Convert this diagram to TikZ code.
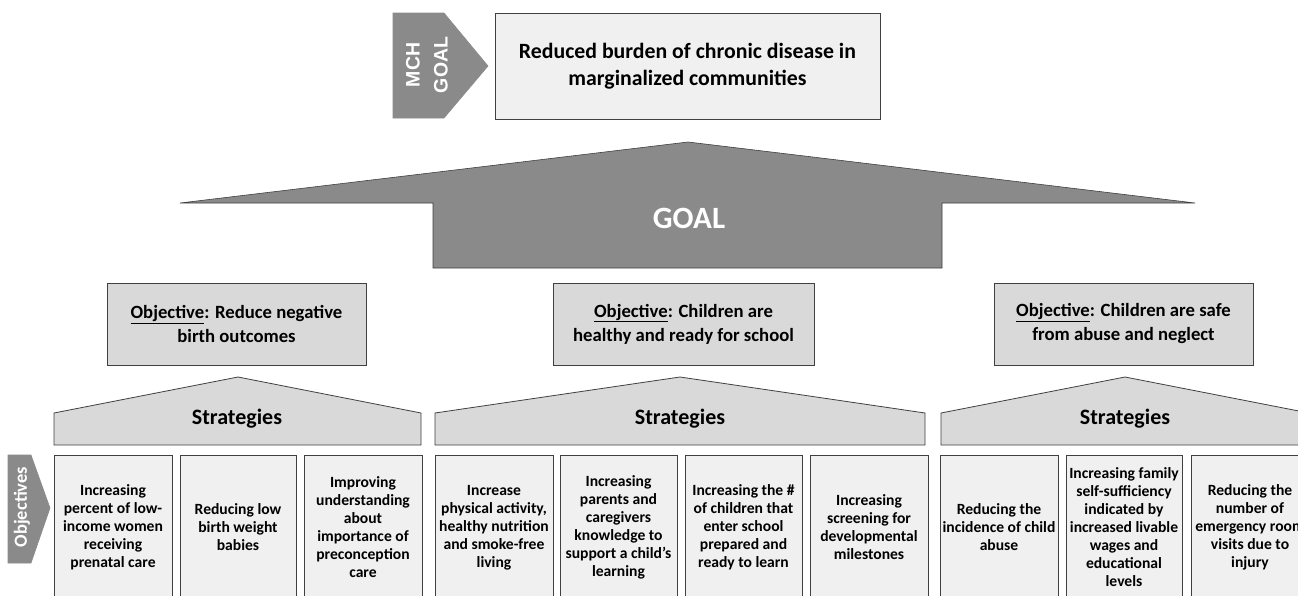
\documentclass[tikz,border=0pt]{standalone}
\usepackage{fontspec}
\setmainfont{Carlito}
\newfontfamily\arialfont{Liberation Sans}
\definecolor{arrowgray}{HTML}{8A8A8A}
\definecolor{midgray}{HTML}{D9D9D9}
\definecolor{lightgray}{HTML}{F0F0F0}
\definecolor{edgegray}{HTML}{404040}
\tikzset{
  darkshape/.style={fill=arrowgray, draw=edgegray, line width=0.6pt},
  midshape/.style={fill=midgray, draw=edgegray, line width=0.8pt},
  lightshape/.style={fill=lightgray, draw=edgegray, line width=0.8pt},
  leaf/.style={lightshape, rectangle, inner sep=0pt, align=center, font=\bfseries\fontsize{15.6}{18}\selectfont},
  objbox/.style={midshape, rectangle, inner sep=0pt, align=center, font=\bfseries\fontsize{18.7}{24}\selectfont},
  whitetxt/.style={text=white, font=\bfseries, align=center, inner sep=0pt},
  blacktxt/.style={font=\bfseries, align=center, inner sep=0pt},
  strat/.style={blacktxt, font=\bfseries\fontsize{22}{26}\selectfont}
}
\begin{document}
\begin{tikzpicture}[x=1pt,y=-1pt]
\useasboundingbox (0,0) rectangle (1298,595);
\fill[white] (0,0) rectangle (1298,595);
\begin{scope}
\clip (0,0) rectangle (1298,595);
% MCH goal arrow
\draw[darkshape, draw=arrowgray] (393,13) -- (444,13) -- (488,66) -- (444,118) -- (393,118) -- cycle;
\node[whitetxt, rotate=90, font=\arialfont\bfseries\fontsize{19.5}{28}\selectfont] (mch) at (427,65) {MCH\\GOAL};
% top box
\node[lightshape, minimum width=385pt, minimum height=106pt, inner sep=0pt, align=center, font=\bfseries\fontsize{21.8}{27}\selectfont] (top) at (687.5,66) {Reduced burden of chronic disease in\\marginalized communities};
% GOAL arrow
\draw[darkshape] (180,203) -- (688,142) -- (1195,203) -- (942,203) -- (942,268) -- (433,268) -- (433,203) -- cycle;
\node[whitetxt, font=\bfseries\fontsize{31}{34}\selectfont] (goal) at (689,218) {GOAL};
% objective boxes
\node[objbox, minimum width=259pt, minimum height=82pt] (o1) at (236.5,324) {\underline{Objective}: Reduce negative\\birth outcomes};
\node[objbox, minimum width=261pt, minimum height=82pt] (o2) at (683.5,324) {\underline{Objective}: Children are\\healthy and ready for school};
\node[objbox, minimum width=259pt, minimum height=82pt] (o3) at (1123.5,324) {\underline{Objective}: Children are safe\\from abuse and neglect};
% strategies
\draw[midshape] (54,445) -- (54,413) -- (238,377) -- (421,413) -- (421,445) -- cycle;
\draw[midshape] (435,445) -- (435,413) -- (680,377) -- (925,413) -- (925,445) -- cycle;
\draw[midshape] (941,445) -- (941,413) -- (1125,377) -- (1309,413) -- (1309,445) -- cycle;
\node[strat] (s1) at (237,419) {Strategies};
\node[strat] (s2) at (680,419) {Strategies};
\node[strat] (s3) at (1125,419) {Strategies};
% objectives arrow
\draw[darkshape, draw=arrowgray] (8,455) -- (31,455) -- (50,508) -- (31,563) -- (8,563) -- cycle;
\node[whitetxt, rotate=90, font=\bfseries\fontsize{18.5}{20}\selectfont] (objs) at (22,507) {Objectives};
% leaf boxes
\node[leaf, minimum width=118pt, minimum height=145pt] (l1) at (113,527.5) {Increasing\\percent of low-\\income women\\receiving\\prenatal care};
\node[leaf, minimum width=116pt, minimum height=145pt] (l2) at (238,527.5) {Reducing low\\birth weight\\babies};
\node[leaf, minimum width=118pt, minimum height=145pt] (l3) at (363,527.5) {Improving\\understanding\\about\\importance of\\preconception\\care};
\node[leaf, minimum width=118pt, minimum height=145pt] (l4) at (494,527.5) {Increase\\physical activity,\\healthy nutrition\\and smoke-free\\living};
\node[leaf, minimum width=117pt, minimum height=145pt] (l5) at (618.5,527.5) {Increasing\\parents and\\caregivers\\knowledge to\\support a child’s\\learning};
\node[leaf, minimum width=117pt, minimum height=145pt] (l6) at (743.5,527.5) {Increasing the \#\\of children that\\enter school\\prepared and\\ready to learn};
\node[leaf, minimum width=118pt, minimum height=145pt] (l7) at (869,527.5) {Increasing\\screening for\\developmental\\milestones};
\node[leaf, minimum width=118pt, minimum height=145pt] (l8) at (999,527.5) {Reducing the\\incidence of child\\abuse};
\node[leaf, minimum width=116pt, minimum height=145pt] (l9) at (1124,527.5) {Increasing family\\self-sufficiency\\indicated by\\increased livable\\wages and\\educational\\levels};
\node[leaf, minimum width=118pt, minimum height=145pt] (l10) at (1250,527.5) {Reducing the\\number of\\emergency room\\visits due to\\injury};
\end{scope}
\end{tikzpicture}
\end{document}
